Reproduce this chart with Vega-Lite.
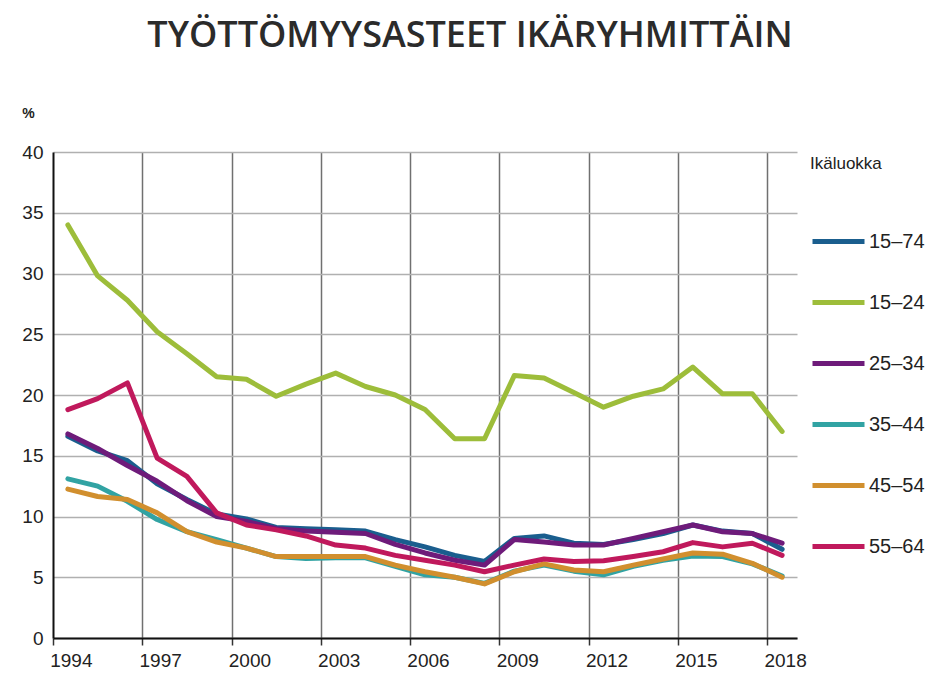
{
  "$schema": "https://vega.github.io/schema/vega-lite/v6.json",
  "width": 744,
  "height": 486,
  "autosize": {"type": "none"},
  "padding": {"left": 53, "top": 152, "right": 146, "bottom": 39},
  "background": "white",
  "title": {
    "text": "TYÖTTÖMYYSASTEET IKÄRYHMITTÄIN",
    "font": "Open Sans",
    "fontSize": 36,
    "fontWeight": 600,
    "color": "#2b2b2b",
    "anchor": "middle",
    "frame": "group",
    "dx": 45,
    "offset": 51
  },
  "config": {
    "view": {"stroke": null},
    "axis": {"labelFont": "Liberation Sans", "titleFont": "Liberation Sans"},
    "legend": {"labelFont": "Liberation Sans", "titleFont": "Liberation Sans"}
  },
  "data": {
    "values": [
      {"year":1994,"group":"15–74","value":16.6},{"year":1995,"group":"15–74","value":15.4},{"year":1996,"group":"15–74","value":14.6},{"year":1997,"group":"15–74","value":12.7},{"year":1998,"group":"15–74","value":11.4},{"year":1999,"group":"15–74","value":10.2},{"year":2000,"group":"15–74","value":9.8},{"year":2001,"group":"15–74","value":9.1},{"year":2002,"group":"15–74","value":9.0},{"year":2003,"group":"15–74","value":8.9},{"year":2004,"group":"15–74","value":8.8},{"year":2005,"group":"15–74","value":8.1},{"year":2006,"group":"15–74","value":7.5},{"year":2007,"group":"15–74","value":6.8},{"year":2008,"group":"15–74","value":6.3},{"year":2009,"group":"15–74","value":8.2},{"year":2010,"group":"15–74","value":8.4},{"year":2011,"group":"15–74","value":7.8},{"year":2012,"group":"15–74","value":7.7},{"year":2013,"group":"15–74","value":8.1},{"year":2014,"group":"15–74","value":8.6},{"year":2015,"group":"15–74","value":9.3},{"year":2016,"group":"15–74","value":8.8},{"year":2017,"group":"15–74","value":8.6},{"year":2018,"group":"15–74","value":7.3},
      {"year":1994,"group":"15–24","value":34.0},{"year":1995,"group":"15–24","value":29.8},{"year":1996,"group":"15–24","value":27.8},{"year":1997,"group":"15–24","value":25.2},{"year":1998,"group":"15–24","value":23.4},{"year":1999,"group":"15–24","value":21.5},{"year":2000,"group":"15–24","value":21.3},{"year":2001,"group":"15–24","value":19.9},{"year":2002,"group":"15–24","value":20.9},{"year":2003,"group":"15–24","value":21.8},{"year":2004,"group":"15–24","value":20.7},{"year":2005,"group":"15–24","value":20.0},{"year":2006,"group":"15–24","value":18.8},{"year":2007,"group":"15–24","value":16.4},{"year":2008,"group":"15–24","value":16.4},{"year":2009,"group":"15–24","value":21.6},{"year":2010,"group":"15–24","value":21.4},{"year":2011,"group":"15–24","value":20.2},{"year":2012,"group":"15–24","value":19.0},{"year":2013,"group":"15–24","value":19.9},{"year":2014,"group":"15–24","value":20.5},{"year":2015,"group":"15–24","value":22.3},{"year":2016,"group":"15–24","value":20.1},{"year":2017,"group":"15–24","value":20.1},{"year":2018,"group":"15–24","value":17.0},
      {"year":1994,"group":"25–34","value":16.8},{"year":1995,"group":"25–34","value":15.6},{"year":1996,"group":"25–34","value":14.2},{"year":1997,"group":"25–34","value":12.9},{"year":1998,"group":"25–34","value":11.3},{"year":1999,"group":"25–34","value":10.0},{"year":2000,"group":"25–34","value":9.6},{"year":2001,"group":"25–34","value":9.0},{"year":2002,"group":"25–34","value":8.8},{"year":2003,"group":"25–34","value":8.7},{"year":2004,"group":"25–34","value":8.6},{"year":2005,"group":"25–34","value":7.7},{"year":2006,"group":"25–34","value":7.0},{"year":2007,"group":"25–34","value":6.4},{"year":2008,"group":"25–34","value":6.0},{"year":2009,"group":"25–34","value":8.1},{"year":2010,"group":"25–34","value":7.9},{"year":2011,"group":"25–34","value":7.65},{"year":2012,"group":"25–34","value":7.65},{"year":2013,"group":"25–34","value":8.2},{"year":2014,"group":"25–34","value":8.75},{"year":2015,"group":"25–34","value":9.3},{"year":2016,"group":"25–34","value":8.75},{"year":2017,"group":"25–34","value":8.6},{"year":2018,"group":"25–34","value":7.8},
      {"year":1994,"group":"35–44","value":13.1},{"year":1995,"group":"35–44","value":12.5},{"year":1996,"group":"35–44","value":11.25},{"year":1997,"group":"35–44","value":9.75},{"year":1998,"group":"35–44","value":8.75},{"year":1999,"group":"35–44","value":8.1},{"year":2000,"group":"35–44","value":7.4},{"year":2001,"group":"35–44","value":6.7},{"year":2002,"group":"35–44","value":6.55},{"year":2003,"group":"35–44","value":6.6},{"year":2004,"group":"35–44","value":6.6},{"year":2005,"group":"35–44","value":5.9},{"year":2006,"group":"35–44","value":5.2},{"year":2007,"group":"35–44","value":5.0},{"year":2008,"group":"35–44","value":4.5},{"year":2009,"group":"35–44","value":5.5},{"year":2010,"group":"35–44","value":6.0},{"year":2011,"group":"35–44","value":5.5},{"year":2012,"group":"35–44","value":5.2},{"year":2013,"group":"35–44","value":5.9},{"year":2014,"group":"35–44","value":6.4},{"year":2015,"group":"35–44","value":6.75},{"year":2016,"group":"35–44","value":6.7},{"year":2017,"group":"35–44","value":6.1},{"year":2018,"group":"35–44","value":5.1},
      {"year":1994,"group":"45–54","value":12.25},{"year":1995,"group":"45–54","value":11.65},{"year":1996,"group":"45–54","value":11.4},{"year":1997,"group":"45–54","value":10.3},{"year":1998,"group":"45–54","value":8.75},{"year":1999,"group":"45–54","value":7.9},{"year":2000,"group":"45–54","value":7.4},{"year":2001,"group":"45–54","value":6.7},{"year":2002,"group":"45–54","value":6.7},{"year":2003,"group":"45–54","value":6.7},{"year":2004,"group":"45–54","value":6.7},{"year":2005,"group":"45–54","value":6.0},{"year":2006,"group":"45–54","value":5.45},{"year":2007,"group":"45–54","value":5.0},{"year":2008,"group":"45–54","value":4.45},{"year":2009,"group":"45–54","value":5.45},{"year":2010,"group":"45–54","value":6.1},{"year":2011,"group":"45–54","value":5.6},{"year":2012,"group":"45–54","value":5.45},{"year":2013,"group":"45–54","value":6.0},{"year":2014,"group":"45–54","value":6.5},{"year":2015,"group":"45–54","value":7.0},{"year":2016,"group":"45–54","value":6.9},{"year":2017,"group":"45–54","value":6.15},{"year":2018,"group":"45–54","value":5.0},
      {"year":1994,"group":"55–64","value":18.8},{"year":1995,"group":"55–64","value":19.7},{"year":1996,"group":"55–64","value":21.0},{"year":1997,"group":"55–64","value":14.8},{"year":1998,"group":"55–64","value":13.3},{"year":1999,"group":"55–64","value":10.3},{"year":2000,"group":"55–64","value":9.3},{"year":2001,"group":"55–64","value":8.9},{"year":2002,"group":"55–64","value":8.4},{"year":2003,"group":"55–64","value":7.65},{"year":2004,"group":"55–64","value":7.4},{"year":2005,"group":"55–64","value":6.8},{"year":2006,"group":"55–64","value":6.4},{"year":2007,"group":"55–64","value":6.0},{"year":2008,"group":"55–64","value":5.45},{"year":2009,"group":"55–64","value":6.0},{"year":2010,"group":"55–64","value":6.5},{"year":2011,"group":"55–64","value":6.3},{"year":2012,"group":"55–64","value":6.35},{"year":2013,"group":"55–64","value":6.7},{"year":2014,"group":"55–64","value":7.1},{"year":2015,"group":"55–64","value":7.85},{"year":2016,"group":"55–64","value":7.5},{"year":2017,"group":"55–64","value":7.8},{"year":2018,"group":"55–64","value":6.8}
    ]
  },
  "mark": {"type": "line", "strokeWidth": 5, "strokeJoin": "round", "strokeCap": "round"},
  "encoding": {
    "x": {
      "field": "year",
      "type": "quantitative",
      "scale": {"domain": [1993.5, 2018.5], "nice": false, "zero": false},
      "axis": {
        "title": null,
        "values": [1993.5, 1994, 1996.5, 1997, 1999.5, 2000, 2002.5, 2003, 2005.5, 2006, 2008.5, 2009, 2011.5, 2012, 2014.5, 2015, 2017.5, 2018],
        "labelExpr": "datum.value % 1 == 0 ? '' + datum.value : ''",
        "labelFontSize": 19,
        "labelColor": "#222222",
        "labelPadding": 6,
        "labelOffset": 3,
        "labelFlush": false,
        "labelOverlap": false,
        "domainColor": "#111111",
        "domainWidth": 2,
        "tickSize": 7,
        "tickWidth": 1.5,
        "tickColor": "#333333",
        "tickOpacity": {"condition": {"test": "datum.value % 1 != 0", "value": 1}, "value": 0},
        "gridOpacity": {"condition": {"test": "datum.value % 1 != 0 && datum.value > 1994", "value": 1}, "value": 0},
        "gridColor": "#707070",
        "gridWidth": 1.5
      }
    },
    "y": {
      "field": "value",
      "type": "quantitative",
      "scale": {"domain": [0, 40], "nice": false},
      "axis": {
        "title": "%",
        "titleAngle": 0,
        "titleX": -25,
        "titleY": -39,
        "titleAlign": "center",
        "titleBaseline": "middle",
        "titleFontSize": 14,
        "titleFontWeight": "bold",
        "titleColor": "#222222",
        "values": [0, 5, 10, 15, 20, 25, 30, 35, 40],
        "labelFontSize": 19,
        "labelColor": "#222222",
        "labelPadding": 10,
        "tickSize": 0,
        "domainColor": "#111111",
        "domainWidth": 2,
        "gridColor": "#b0b0b0",
        "gridWidth": 1.5
      }
    },
    "color": {
      "field": "group",
      "type": "nominal",
      "title": "Ikäluokka",
      "scale": {
        "domain": ["15–74", "15–24", "25–34", "35–44", "45–54", "55–64"],
        "range": ["#1a5e8e", "#9dbd3a", "#6e1b7a", "#31a3a3", "#d18f2e", "#c0195c"]
      },
      "legend": {
        "orient": "none",
        "legendX": 757,
        "legendY": 4,
        "symbolType": "stroke",
        "symbolSize": 2704,
        "symbolStrokeWidth": 5,
        "titleFontSize": 17,
        "titleFontWeight": "normal",
        "titleColor": "#222222",
        "titlePadding": 40,
        "labelFontSize": 20,
        "labelColor": "#222222",
        "labelOffset": 2,
        "rowPadding": 22
      }
    }
  }
}
